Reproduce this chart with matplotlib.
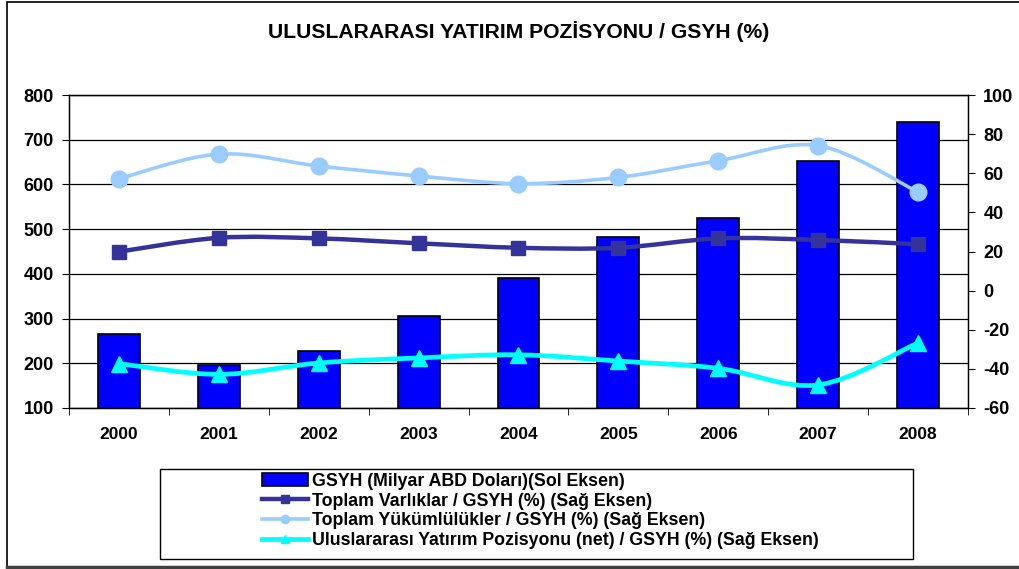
import numpy as np
from matplotlib import pyplot as plt
from matplotlib.path import Path
from matplotlib.patches import PathPatch, Rectangle
from matplotlib.lines import Line2D

plt.rcParams['font.family'] = ['Liberation Sans', 'DejaVu Sans']
plt.rcParams['font.weight'] = 'bold'
plt.rcParams['axes.unicode_minus'] = False

#%% Data

years       = ['2000', '2001', '2002', '2003', '2004', '2005', '2006', '2007', '2008']
gsyh        = [265, 196, 228, 306, 390, 483, 526, 652, 739]          # milyar ABD dolari (sol eksen)
varliklar   = [19.9, 27.0, 26.7, 24.2, 21.9, 21.9, 26.7, 25.9, 23.7] # % (sag eksen)
yukumluluk  = [57.2, 69.8, 63.7, 58.6, 54.7, 57.9, 66.4, 74.1, 50.4] # % (sag eksen)
net_pozisyon = [-37.3, -42.8, -37.0, -34.4, -32.8, -36.0, -39.7, -48.2, -26.7]

labels = ['GSYH (Milyar ABD Doları)(Sol Eksen)',
          'Toplam Varlıklar / GSYH (%) (Sağ Eksen)',
          'Toplam Yükümlülükler / GSYH (%) (Sağ Eksen)',
          'Uluslararası Yatırım Pozisyonu (net) / GSYH (%) (Sağ Eksen)']

c_bar = '#0000FF'
c_var = '#333399'
c_yuk = '#99CCFF'
c_net = '#00FFFF'

#%% Smoothed line (Excel-like bezier through the points)

def smooth_path(x, y):
    x = np.asarray(x, float)
    y = np.asarray(y, float)
    pts = np.column_stack([x, y])
    verts = [pts[0]]
    codes = [Path.MOVETO]
    n = len(pts)
    for i in range(n - 1):
        p0 = pts[i - 1] if i > 0 else pts[i]
        p1 = pts[i]
        p2 = pts[i + 1]
        p3 = pts[i + 2] if i + 2 < n else pts[i + 1]
        c1 = p1 + (p2 - p0) / 6.0
        c2 = p2 - (p3 - p1) / 6.0
        verts += [c1, c2, p2]
        codes += [Path.CURVE4] * 3
    return Path(verts, codes)

#%% Figure

W, H = 1019, 569
fig = plt.figure(figsize=(W / 100, H / 100), dpi=100)

# outer chart frame
fig.add_artist(Rectangle((7 / W, 1 - 567 / H), (W + 20) / W, (565) / H,
                         transform=fig.transFigure, fill=False, edgecolor='black', lw=1.2))
fig.add_artist(Line2D([7 / W, 1.0], [1 - 567 / H, 1 - 567 / H], transform=fig.transFigure,
                      color='#404040', lw=2.5))

ax = fig.add_axes([69 / W, 1 - 408 / H, (968 - 69) / W, (408 - 95) / H])
ax2 = ax.twinx()

x = np.arange(len(years))

ax.bar(x, gsyh, width=0.42, color=c_bar, edgecolor='black', linewidth=1.2, zorder=2)
ax.set_ylim(100, 800)
ax.set_yticks(np.arange(100, 801, 100))
ax.set_xlim(-0.5, len(years) - 0.5)
ax.set_xticks(x)
ax.set_xticklabels(years)
ax.set_xticks(np.arange(-0.5, len(years), 1), minor=True)
ax.tick_params(axis='x', which='major', length=0, pad=14, labelsize=12.5)
ax.tick_params(axis='x', which='minor', length=5, direction='out', color='black')
ax.tick_params(axis='y', length=5, direction='out', labelsize=13, pad=6)
ax.grid(axis='y', color='black', linewidth=0.9, zorder=0)
ax.set_axisbelow(True)
for s in ax.spines.values():
    s.set_linewidth(1.0)

ax2.set_ylim(-60, 100)
ax2.set_yticks(np.arange(-60, 101, 20))
ax2.tick_params(axis='y', length=5, direction='out', labelsize=13, pad=6)

series = [(varliklar, c_var, 's', 3.2, 10),
          (yukumluluk, c_yuk, 'o', 2.6, 12),
          (net_pozisyon, c_net, '^', 3.4, 12)]
for vals, col, mk, lw, ms in series:
    ax2.add_patch(PathPatch(smooth_path(x, vals), facecolor='none', edgecolor=col,
                            lw=lw, capstyle='round', joinstyle='round', zorder=3))
    ax2.plot(x, vals, linestyle='none', marker=mk, color=col, markersize=ms,
             markeredgecolor=col, zorder=4)

for lbl in ax.get_xticklabels() + ax.get_yticklabels() + ax2.get_yticklabels():
    lbl.set_fontweight('bold')

fig.text(519 / W, 1 - 32 / H, 'ULUSLARARASI YATIRIM POZİSYONU / GSYH (%)',
         ha='center', va='center', fontsize=15.2, fontweight='bold')

#%% Legend

fig.add_artist(Rectangle((160 / W, 1 - 559 / H), (913 - 160) / W, (559 - 469) / H,
                         transform=fig.transFigure, fill=True, facecolor='white',
                         edgecolor='black', lw=1.0))

handles = [Rectangle((0, 0), 1, 1, facecolor=c_bar, edgecolor='black', lw=1.2),
           Line2D([], [], color=c_var, lw=3.2, marker='s', markersize=6),
           Line2D([], [], color=c_yuk, lw=2.6, marker='o', markersize=6),
           Line2D([], [], color=c_net, lw=3.4, marker='^', markersize=6)]
leg = fig.legend(handles, labels, loc='center', bbox_to_anchor=(540 / W, 1 - 511 / H),
                 frameon=False, fontsize=12.8, handlelength=2.6, handleheight=0.7,
                 handletextpad=0.2, labelspacing=0.16, borderpad=0)
for t in leg.get_texts():
    t.set_fontweight('bold')

plt.savefig('out.png', dpi=100)
